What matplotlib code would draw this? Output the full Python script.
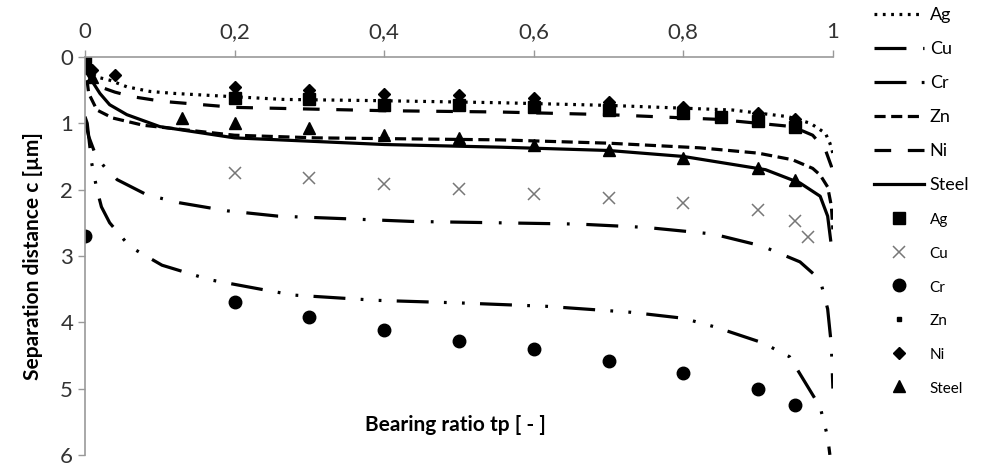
import matplotlib
matplotlib.use("Agg")
import matplotlib.pyplot as plt

plt.rcParams['font.family'] = ['Lato', 'DejaVu Sans']
plt.rcParams['lines.scale_dashes'] = False

# fitted curves (bearing ratio tp, separation distance c)
ag_x = [0, 0.005, 0.015, 0.033, 0.056, 0.087, 0.12, 0.2, 0.265, 0.4, 0.555, 0.7, 0.866, 0.94, 0.97, 0.99, 0.996, 1.0]
ag_y = [0.05, 0.2, 0.3, 0.35, 0.45, 0.52, 0.55, 0.6, 0.64, 0.66, 0.69, 0.73, 0.8, 0.9, 1.0, 1.15, 1.3, 1.45]

cu_x = [0, 0.005, 0.015, 0.027, 0.043, 0.083, 0.127, 0.19, 0.258, 0.35, 0.437, 0.55, 0.66, 0.75, 0.84, 0.905, 0.956, 0.983, 0.993, 0.998, 1.0]
cu_y = [0.95, 1.2, 1.5, 1.67, 1.85, 2.08, 2.2, 2.32, 2.4, 2.44, 2.48, 2.5, 2.52, 2.57, 2.67, 2.85, 3.09, 3.36, 3.8, 4.35, 5.0]

cr_x = [0, 0.003, 0.009, 0.016, 0.022, 0.033, 0.06, 0.103, 0.167, 0.234, 0.278, 0.39, 0.504, 0.617, 0.73, 0.8, 0.842, 0.906, 0.942, 0.983, 0.993, 0.996]
cr_y = [0.9, 1.0, 1.6, 2.0, 2.26, 2.5, 2.86, 3.14, 3.36, 3.5, 3.59, 3.67, 3.71, 3.76, 3.85, 3.94, 4.07, 4.31, 4.52, 5.28, 5.73, 6.0]

zn_x = [0, 0.005, 0.016, 0.037, 0.078, 0.2, 0.31, 0.555, 0.7, 0.822, 0.9, 0.946, 0.973, 0.983, 0.993, 0.998, 1.0]
zn_y = [0.1, 0.55, 0.8, 0.92, 1.03, 1.18, 1.22, 1.25, 1.3, 1.37, 1.45, 1.55, 1.68, 1.78, 1.96, 2.25, 2.6]

ni_x = [0, 0.01, 0.02, 0.04, 0.064, 0.104, 0.2, 0.4, 0.555, 0.7, 0.845, 0.946, 0.973, 0.99, 0.998, 1.0]
ni_y = [0.1, 0.35, 0.45, 0.53, 0.6, 0.67, 0.76, 0.81, 0.83, 0.87, 0.94, 1.05, 1.18, 1.4, 1.65, 1.75]

st_x = [0, 0.003, 0.007, 0.02, 0.033, 0.056, 0.1, 0.2, 0.4, 0.555, 0.7, 0.8, 0.91, 0.956, 0.983, 0.993, 0.997]
st_y = [0.1, 0.25, 0.32, 0.55, 0.72, 0.87, 1.05, 1.22, 1.32, 1.36, 1.41, 1.5, 1.7, 1.9, 2.1, 2.4, 2.76]

# measured points
ag_mx = [0, 0.2, 0.3, 0.4, 0.5, 0.6, 0.7, 0.8, 0.85, 0.9, 0.95]
ag_my = [0.05, 0.62, 0.64, 0.72, 0.72, 0.76, 0.8, 0.85, 0.9, 0.97, 1.05]

cu_mx = [0.2, 0.3, 0.4, 0.5, 0.6, 0.7, 0.8, 0.9, 0.95, 0.967]
cu_my = [1.75, 1.83, 1.92, 1.99, 2.06, 2.13, 2.2, 2.31, 2.47, 2.71]

cr_mx = [0, 0.2, 0.3, 0.4, 0.5, 0.6, 0.7, 0.8, 0.9, 0.95]
cr_my = [2.7, 3.7, 3.92, 4.12, 4.28, 4.4, 4.58, 4.76, 5.0, 5.25]

zn_mx = [0.005, 0.01, 0.2, 0.3, 0.4, 0.5, 0.6, 0.7, 0.8, 0.9, 0.95]
zn_my = [0.15, 0.25, 0.52, 0.56, 0.62, 0.64, 0.7, 0.74, 0.8, 0.9, 1.0]

ni_mx = [0.01, 0.04, 0.2, 0.3, 0.4, 0.5, 0.6, 0.7, 0.8, 0.9, 0.95]
ni_my = [0.2, 0.27, 0.45, 0.5, 0.56, 0.58, 0.62, 0.68, 0.76, 0.85, 0.93]

st_mx = [0.01, 0.13, 0.2, 0.3, 0.4, 0.5, 0.6, 0.7, 0.8, 0.9, 0.95]
st_my = [0.3, 0.92, 1.0, 1.07, 1.18, 1.22, 1.33, 1.4, 1.52, 1.67, 1.85]

x_ticks = [0, 0.2, 0.4, 0.6, 0.8, 1]
x_labels = ['0', '0,2', '0,4', '0,6', '0,8', '1']
y_ticks = [0, 1, 2, 3, 4, 5, 6]

fig = plt.figure(figsize=(9.88, 4.67), dpi=100)
ax = fig.add_axes([0.086, 0.026, 0.757, 0.852])

lw = 2.3
ax.plot(ag_x, ag_y, color='k', lw=lw, dashes=(2, 4), label='Ag')
ax.plot(cu_x, cu_y, color='k', lw=lw, dashes=(23, 12, 2, 12), label='Cu')
ax.plot(cr_x, cr_y, color='k', lw=lw, dashes=(23, 11, 2, 11, 2, 11), label='Cr')
ax.plot(zn_x, zn_y, color='k', lw=lw, dashes=(8, 4), label='Zn')
ax.plot(ni_x, ni_y, color='k', lw=lw, dashes=(12, 12), label='Ni')
ax.plot(st_x, st_y, color='k', lw=lw, label='Steel')

ax.plot(ag_mx, ag_my, 's', color='k', ms=8, ls='none', label='Ag')
ax.plot(cu_mx, cu_my, 'x', color='#777777', ms=9, mew=1.1, ls='none', label='Cu')
ax.plot(cr_mx, cr_my, 'o', color='k', ms=9, ls='none', label='Cr')
ax.plot(zn_mx, zn_my, 's', color='k', ms=3, ls='none', label='Zn')
ax.plot(ni_mx, ni_my, 'D', color='k', ms=6, ls='none', label='Ni')
ax.plot(st_mx, st_my, '^', color='k', ms=8, ls='none', label='Steel')

ax.set_xlim(0, 1)
ax.set_ylim(6, 0)
ax.xaxis.tick_top()
ax.set_xticks(x_ticks)
ax.set_xticklabels(x_labels)
ax.set_yticks(y_ticks)
ax.tick_params(axis='both', labelsize=16, colors='#333333', length=5, width=1, direction='out')
ax.tick_params(axis='x', pad=6)
ax.tick_params(axis='both', color='#999999')
for side in ['right', 'bottom']:
    ax.spines[side].set_visible(False)
for side in ['left', 'top']:
    ax.spines[side].set_color('#999999')
    ax.spines[side].set_linewidth(1.2)

ax.set_ylabel('Separation distance c [µm]', fontsize=15, fontweight='bold', labelpad=12)
ax.text(0.496, 0.075, 'Bearing ratio tp [ - ]', transform=ax.transAxes,
        fontsize=15, fontweight='bold', ha='center', va='center')

leg = ax.legend(loc='upper left', bbox_to_anchor=(0.877, 1.0), bbox_transform=fig.transFigure,
                frameon=False, fontsize=13, handlelength=2.8, handletextpad=0.3,
                labelspacing=1.0, borderaxespad=0)
for t in leg.get_texts()[6:]:
    t.set_fontsize(11)

fig.savefig('out.png', dpi=100)
